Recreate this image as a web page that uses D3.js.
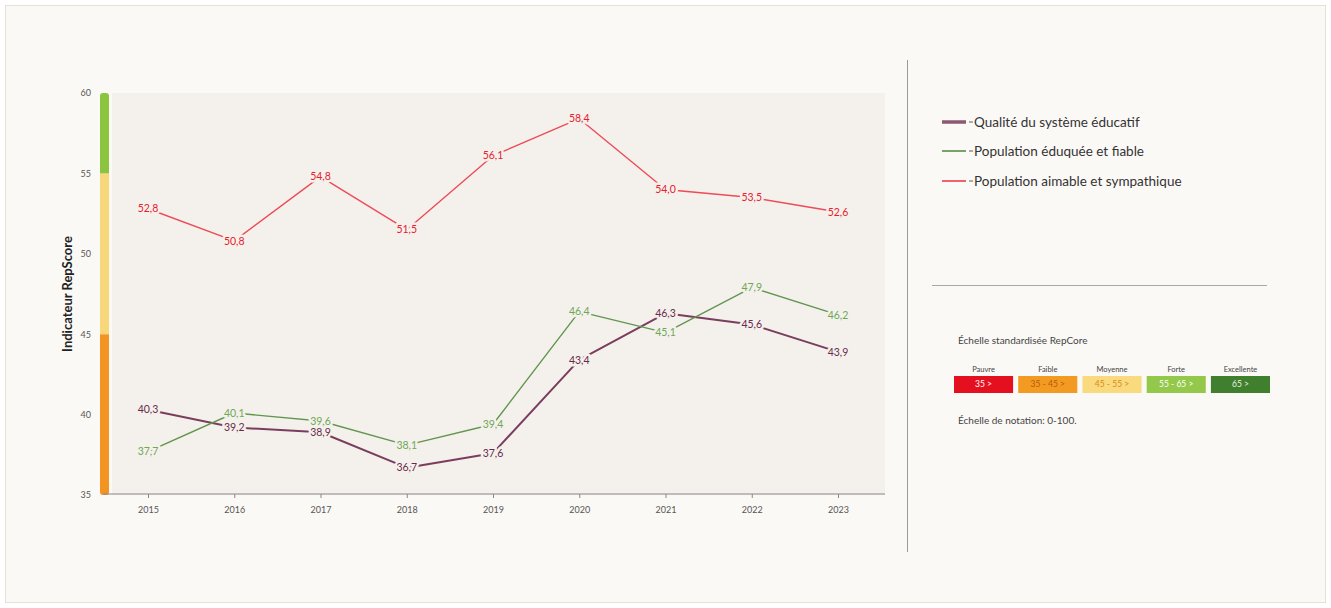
<!DOCTYPE html>
<html><head><meta charset="utf-8">
<script src="https://cdn.jsdelivr.net/npm/d3@7"></script>
<style>
html,body{margin:0;padding:0;background:#fff;}
svg{display:block;font-family:Lato, "Open Sans", sans-serif;}
</style></head>
<body><svg id="c" width="1331" height="608"></svg>
<script>
const years = ["2015","2016","2017","2018","2019","2020","2021","2022","2023"];
const seriesNames = ["Qualité du système éducatif","Population éduquée et fiable","Population aimable et sympathique"];
const qualiteEducatif = [40.3, 39.2, 38.9, 36.7, 37.6, 43.4, 46.3, 45.6, 43.9];
const populationEduquee = [37.7, 40.1, 39.6, 38.1, 39.4, 46.4, 45.1, 47.9, 46.2];
const populationAimable = [52.8, 50.8, 54.8, 51.5, 56.1, 58.4, 54.0, 53.5, 52.6];
const yTicks = [35, 40, 45, 50, 55, 60];
const bandStops = [[35,45],[45,55],[55,60]];
const scaleLabels = ["Pauvre","Faible","Moyenne","Forte","Excellente"];
const scaleRanges = ["35 >","35 - 45 >","45 - 55 >","55 - 65 >","65 >"];

const seriesColors = ["#7a3d5e","#62964f","#ee4a58"];
const labelColors = ["#6a2a4c","#6fa855","#e8202e"];
const seriesWidths = [2,1.4,1.4];
const bandColors = ["#f39322","#f8d67a","#8cc43f"];
const scaleColors = ["#e5101f","#f29a22","#f9da7e","#94c84a","#3f7f2e"];
const scaleText = ["#ffffff","#b85a06","#d88a1a","#ffffff","#e9f5e0"];

const svg = d3.select("#c");
svg.append("rect").attr("x",0).attr("y",0).attr("width",1331).attr("height",608).attr("fill","#ffffff");
svg.append("rect").attr("x",5.5).attr("y",5.5).attr("width",1320).attr("height",597)
  .attr("fill","#fbf9f6").attr("stroke","#eadfd6").attr("stroke-width",1);

const plotL = 112, plotR = 885, plotT = 93, plotB = 495;
const x = d3.scalePoint().domain(years).range([148, 838]);
const y = d3.scaleLinear().domain([35, 60]).range([plotB, plotT]);

svg.append("rect").attr("x",plotL).attr("y",plotT).attr("width",plotR-plotL).attr("height",plotB-plotT).attr("fill","#f4f1ec");

// colored band on y axis
const defs = svg.append("defs");
defs.append("clipPath").attr("id","bandClip").append("rect")
  .attr("x",100).attr("width",9).attr("y",y(60)).attr("height",y(35)-y(60)).attr("rx",3);
const bandG = svg.append("g").attr("clip-path","url(#bandClip)");
bandStops.forEach((s,i)=>{
  bandG.append("rect").attr("x",100).attr("width",9)
    .attr("y", y(s[1])).attr("height", y(s[0]) - y(s[1]))
    .attr("fill", bandColors[i]);
});

// y ticks
const yAxis = d3.axisLeft(y).tickValues(yTicks).tickSize(0).tickPadding(6);
const ya = svg.append("g").attr("transform","translate(97,0)").call(yAxis);
ya.select(".domain").remove();
ya.selectAll("text").attr("font-size",9).attr("fill","#555").attr("font-family","Lato, sans-serif");

svg.append("text").attr("transform",`translate(72,${(plotT+plotB)/2}) rotate(-90)`)
  .attr("text-anchor","middle").attr("font-size",13).attr("font-weight","bold").attr("fill","#222")
  .text("Indicateur RepScore");

// x axis
const xAxis = d3.axisBottom(x).tickSize(4).tickPadding(9);
const xa = svg.append("g").attr("transform",`translate(0,${plotB-1})`).call(xAxis);
xa.select(".domain").remove();
xa.selectAll("line").attr("stroke","#888");
xa.selectAll("text").attr("font-size",9).attr("fill","#555").attr("font-family","Lato, sans-serif");
svg.append("line").attr("x1",103).attr("x2",plotR).attr("y1",plotB-1).attr("y2",plotB-1).attr("stroke","#888").attr("stroke-width",1);

// lines
const allSeries = [qualiteEducatif, populationEduquee, populationAimable];
const line = d3.line().x((d,i)=>x(years[i])).y(d=>y(d));
allSeries.forEach((vals,si)=>{
  svg.append("path").datum(vals).attr("d",line).attr("fill","none")
    .attr("stroke",seriesColors[si]).attr("stroke-width",seriesWidths[si]).attr("stroke-linejoin","round");
});
const fmt = v => d3.format(".1f")(v).replace(".",",");
allSeries.forEach((vals,si)=>{
  svg.append("g").selectAll("text").data(vals).join("text")
    .attr("x",(d,i)=>x(years[i])).attr("y",d=>y(d)).attr("dy","0.35em")
    .attr("text-anchor","middle").attr("font-size",10.5)
    .attr("fill",labelColors[si])
    .attr("stroke","#f4f1ec").attr("stroke-width",5).attr("paint-order","stroke").attr("stroke-linejoin","round")
    .text(d=>fmt(d));
});

// divider
svg.append("line").attr("x1",907.5).attr("x2",907.5).attr("y1",60).attr("y2",552).attr("stroke","#9a9a9a").attr("stroke-width",1);
svg.append("line").attr("x1",932).attr("x2",1267).attr("y1",285.5).attr("y2",285.5).attr("stroke","#a8a8a8").attr("stroke-width",1);

// legend
const legY = [122,151,181];
seriesNames.forEach((n,i)=>{
  const g = svg.append("g").attr("transform",`translate(942,${legY[i]})`);
  g.append("line").attr("x1",0).attr("x2",24).attr("stroke",seriesColors[i]).attr("stroke-width", i===0?3.5:2).attr("opacity",0.85);
  g.append("line").attr("x1",27).attr("x2",31).attr("stroke","#777").attr("stroke-width",1.2);
  g.append("text").attr("x",32).attr("dy","0.35em").attr("font-size",13.5).attr("fill","#333").text(n);
});

// scale
svg.append("text").attr("x",958).attr("y",344).attr("font-size",10).attr("fill","#444").text("Échelle standardisée RepCore");
const bx = d3.scaleBand().domain(d3.range(5)).range([954,1270]).paddingInner(0.08);
scaleLabels.forEach((l,i)=>{
  svg.append("text").attr("x",bx(i)+bx.bandwidth()/2).attr("y",372).attr("text-anchor","middle")
    .attr("font-size",7.5).attr("fill","#444").text(l);
  svg.append("rect").attr("x",bx(i)).attr("y",376).attr("width",bx.bandwidth()).attr("height",17).attr("fill",scaleColors[i]);
  svg.append("text").attr("x",bx(i)+bx.bandwidth()/2).attr("y",384.5).attr("dy","0.35em").attr("text-anchor","middle")
    .attr("font-size",8.5).attr("fill",scaleText[i]).text(scaleRanges[i]);
});
svg.append("text").attr("x",958).attr("y",424).attr("font-size",10).attr("fill","#444").text("Échelle de notation: 0-100.");
</script></body></html>
